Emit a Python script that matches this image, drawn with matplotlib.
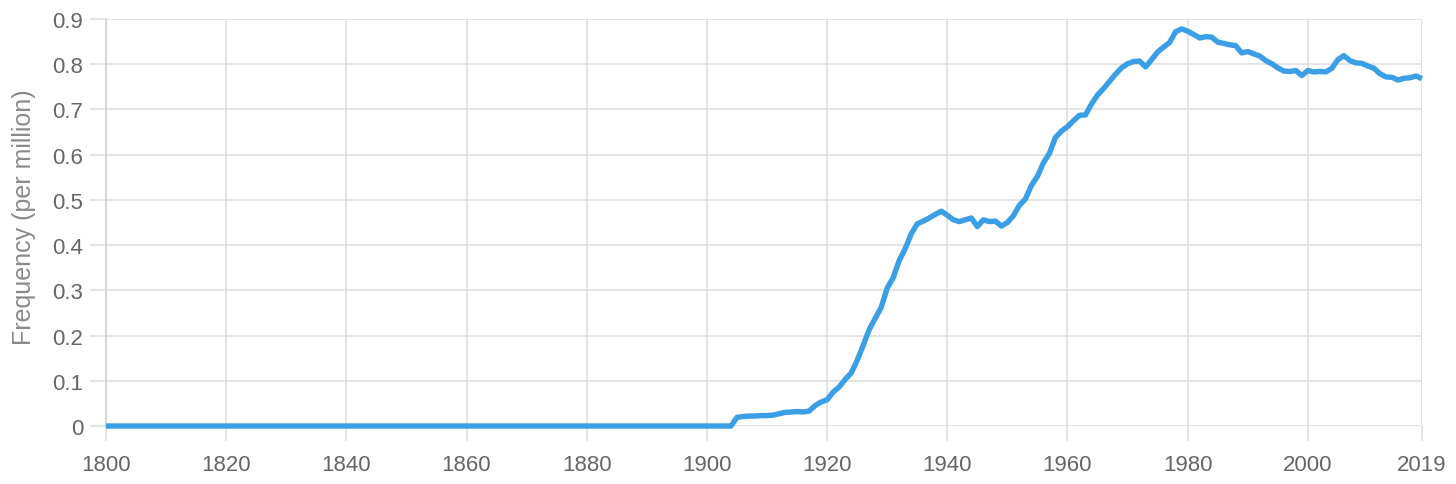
import numpy as np
import matplotlib
matplotlib.use("Agg")
import matplotlib.pyplot as plt

plt.rcParams['font.family'] = ['Liberation Sans', 'DejaVu Sans']

# yearly frequency (per million), 1800-1904 are all zero
years = np.arange(1800, 2020)
freq_early = [0.0] * 105  # 1800..1904
freq_late = [
    0.019, 0.021, 0.022, 0.022, 0.023, 0.023, 0.024, 0.027, 0.030, 0.031,   # 1905-1914
    0.032, 0.031, 0.033, 0.045, 0.053, 0.058, 0.075, 0.086, 0.103, 0.117,   # 1915-1924
    0.145, 0.178, 0.213, 0.238, 0.262, 0.305, 0.328, 0.366, 0.392, 0.425,   # 1925-1934
    0.447, 0.453, 0.460, 0.468, 0.475, 0.466, 0.456, 0.452, 0.456, 0.460,   # 1935-1944
    0.441, 0.456, 0.452, 0.453, 0.442, 0.450, 0.465, 0.488, 0.502, 0.532,   # 1945-1954
    0.552, 0.582, 0.603, 0.638, 0.652, 0.662, 0.675, 0.687, 0.688, 0.712,   # 1955-1964
    0.732, 0.746, 0.762, 0.778, 0.792, 0.801, 0.806, 0.807, 0.794, 0.810,   # 1965-1974
    0.827, 0.838, 0.848, 0.872, 0.878, 0.873, 0.866, 0.858, 0.861, 0.860,   # 1975-1984
    0.849, 0.846, 0.843, 0.841, 0.825, 0.828, 0.823, 0.818, 0.808, 0.801,   # 1985-1994
    0.792, 0.785, 0.784, 0.786, 0.775, 0.786, 0.783, 0.784, 0.783, 0.791,   # 1995-2004
    0.810, 0.819, 0.808, 0.803, 0.802, 0.796, 0.791, 0.779, 0.772, 0.771,   # 2005-2014
    0.765, 0.769, 0.770, 0.774, 0.768,                                      # 2015-2019
]
freq = np.array(freq_early + freq_late)

x_ticks = [1800, 1820, 1840, 1860, 1880, 1900, 1920, 1940, 1960, 1980, 2000, 2019]
y_ticks = [0, 0.1, 0.2, 0.3, 0.4, 0.5, 0.6, 0.7, 0.8, 0.9]
y_labels = ['0', '0.1', '0.2', '0.3', '0.4', '0.5', '0.6', '0.7', '0.8', '0.9']

grid_c = '#dcdcdc'
fig = plt.figure(figsize=(14.56, 4.85), dpi=100)
ax = fig.add_axes([106 / 1456, 1 - 427 / 485, 1316 / 1456, 407 / 485])

ax.plot(years, freq, color='#3a9fe6', lw=3.9, clip_on=False, zorder=3,
        solid_joinstyle='round', solid_capstyle='butt')

ax.set_xlim(1800, 2019)
ax.set_ylim(0, 0.9)
ax.set_xticks(x_ticks)
ax.set_yticks(y_ticks)
ax.set_yticklabels(y_labels)
ax.grid(True, color=grid_c, lw=1.1)
ax.set_axisbelow(True)
for s in ['top', 'right', 'bottom']:
    ax.spines[s].set_visible(False)
ax.spines['left'].set_color('#d0d0d0')
ax.spines['left'].set_linewidth(1.1)
ax.spines['left'].set_bounds(0, 0.9)

ax.tick_params(axis='x', length=11, width=1.1, color=grid_c, pad=9,
               labelsize=16, labelcolor='#666666')
ax.tick_params(axis='y', length=11.5, width=1.1, color=grid_c, pad=5,
               labelsize=16, labelcolor='#666666')
ax.set_ylabel('Frequency (per million)', fontsize=18, color='#8a8a8a')
ax.yaxis.set_label_coords(-0.053, 0.516)

fig.savefig('out.png', dpi=100)
